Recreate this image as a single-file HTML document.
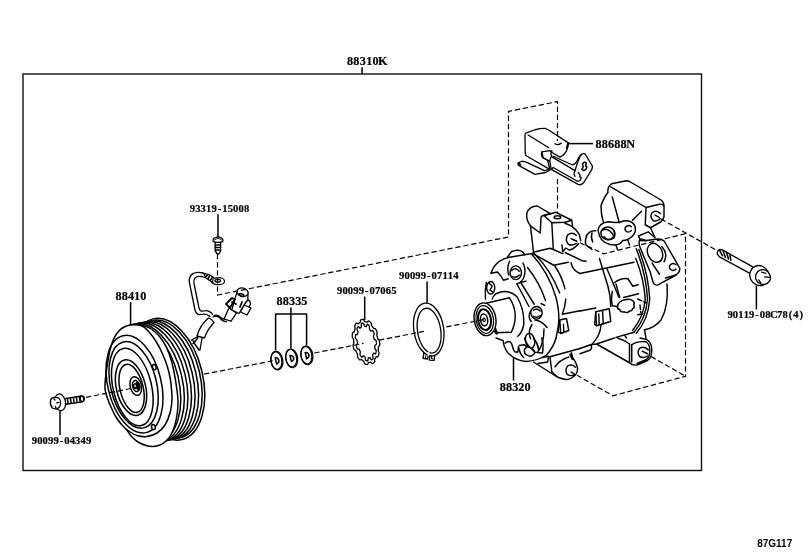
<!DOCTYPE html>
<html>
<head>
<meta charset="utf-8">
<title>88310K</title>
<style>
html,body{margin:0;padding:0;background:#fff;}
body{width:811px;height:560px;overflow:hidden;}
svg{display:block;}
.l{font-family:"Liberation Serif",serif;font-weight:bold;fill:#000;stroke:#000;stroke-width:0.2;}
.lm{font-family:"Liberation Mono",monospace;}
.s{font-family:"Liberation Sans",sans-serif;font-weight:bold;fill:#000;}
.k{fill:none;stroke:#000;stroke-width:1.5;stroke-linecap:round;stroke-linejoin:round;}
.d{fill:none;stroke:#000;stroke-width:1.2;stroke-dasharray:5.3 2.8;}
.w{fill:#fff;stroke:#000;stroke-width:1.5;stroke-linecap:round;stroke-linejoin:round;}
</style>
</head>
<body>
<svg width="811" height="560" viewBox="0 0 811 560" style="will-change:transform">
<rect x="0" y="0" width="811" height="560" fill="#fff"/>
<!-- frame -->
<g id="frame">
<rect x="23" y="74" width="678.5" height="396.5" fill="none" stroke="#111" stroke-width="1.4"/>
</g>
<!-- leaders -->
<g id="leaders" class="k" style="stroke-linecap:butt">
<path d="M362.1,67.3 V74"/>
<path d="M218,214.2 V237"/>
<path d="M130.6,302 V325"/>
<path d="M290.9,307.5 V348.5 M275.6,350.6 V314 H306.6 V345.6"/>
<path d="M364.7,296.5 V320"/>
<path d="M427.1,281.5 V304"/>
<path d="M60,410.7 V435"/>
<path d="M756.4,285.8 V309.4"/>
<path d="M513.5,358 V380.6"/>
<path d="M568.8,143.6 H593"/>
</g>
<!-- parts -->
<g id="parts">
<g id="pulley">
<ellipse class="w" cx="167.50" cy="379.20" rx="35.30" ry="62.05" transform="rotate(-13.5 167.50 379.20)" />
<ellipse class="w" cx="166.00" cy="379.26" rx="34.20" ry="60.30" transform="rotate(-13.5 166.00 379.26)" />
<ellipse class="w" cx="162.43" cy="379.97" rx="34.20" ry="60.30" transform="rotate(-13.5 162.43 379.97)" />
<ellipse class="w" cx="158.87" cy="380.69" rx="34.20" ry="60.30" transform="rotate(-13.5 158.87 380.69)" />
<ellipse class="w" cx="155.30" cy="381.40" rx="34.20" ry="60.30" transform="rotate(-13.5 155.30 381.40)" />
<ellipse class="w" cx="151.73" cy="382.11" rx="34.20" ry="60.30" transform="rotate(-13.5 151.73 382.11)" />
<ellipse class="w" cx="148.17" cy="382.83" rx="34.20" ry="60.30" transform="rotate(-13.5 148.17 382.83)" />
<ellipse class="w" cx="144.60" cy="383.54" rx="34.20" ry="60.30" transform="rotate(-13.5 144.60 383.54)" />
<path class="w" d="M143.00,325.50 C146.33,326.00 149.17,327.58 152.00,329.50 C154.83,331.42 157.58,334.00 160.00,337.00 C162.42,340.00 164.58,343.50 166.50,347.50 C168.42,351.50 170.15,356.42 171.50,361.00 C172.85,365.58 173.72,370.33 174.60,375.00 C175.48,379.67 176.23,384.67 176.80,389.00 C177.37,393.33 177.92,397.00 178.00,401.00 C178.08,405.00 177.87,408.83 177.30,413.00 C176.73,417.17 175.73,422.25 174.60,426.00 C173.47,429.75 171.93,433.00 170.50,435.50 C169.07,438.00 167.75,439.42 166.00,441.00 C164.25,442.58 162.17,444.08 160.00,445.00 C157.83,445.92 155.33,446.42 153.00,446.50 C150.67,446.58 148.50,446.25 146.00,445.50 C143.50,444.75 140.50,443.58 138.00,442.00 C135.50,440.42 132.83,438.00 131.00,436.00 C129.17,434.00 128.83,432.67 127.00,430.00 C125.17,427.33 122.50,425.00 120.00,420.00 C117.50,415.00 113.67,406.67 112.00,400.00 C110.33,393.33 109.83,388.33 110.00,380.00 C110.17,371.67 111.00,358.00 113.00,350.00 C115.00,342.00 118.83,335.92 122.00,332.00 C125.17,328.08 128.50,327.58 132.00,326.50 C135.50,325.42 139.67,325.00 143.00,325.50 Z"/>
<path class="w" d="M130.50,325.00 C127.21,325.33 124.50,326.62 122.25,328.00 C120.00,329.38 118.50,331.25 117.00,333.25 C115.50,335.25 114.38,337.38 113.25,340.00 C112.12,342.62 111.06,346.00 110.25,349.00 C109.44,352.00 109.12,353.75 108.40,358.00 C107.68,362.25 106.47,369.40 105.90,374.50 C105.33,379.60 104.72,384.60 105.00,388.60 C105.28,392.60 106.60,395.43 107.60,398.50 C108.60,401.57 109.60,403.92 111.00,407.00 C112.40,410.08 114.17,414.00 116.00,417.00 C117.83,420.00 120.00,422.75 122.00,425.00 C124.00,427.25 125.50,428.75 128.00,430.50 C130.50,432.25 133.83,434.50 137.00,435.50 C140.17,436.50 143.67,436.92 147.00,436.50 C150.33,436.08 154.00,434.92 157.00,433.00 C160.00,431.08 162.78,428.50 165.00,425.00 C167.22,421.50 169.13,416.33 170.30,412.00 C171.47,407.67 171.82,402.90 172.00,399.00 C172.18,395.10 171.65,391.77 171.40,388.60 C171.15,385.43 171.15,383.60 170.50,380.00 C169.85,376.40 168.75,371.17 167.50,367.00 C166.25,362.83 164.75,359.00 163.00,355.00 C161.25,351.00 159.25,346.75 157.00,343.00 C154.75,339.25 152.00,335.33 149.50,332.50 C147.00,329.67 145.17,327.25 142.00,326.00 C138.83,324.75 133.79,324.67 130.50,325.00 Z"/>
<ellipse class="k" cx="134.50" cy="384.20" rx="26.70" ry="49.80" transform="rotate(-13.5 134.50 384.20)" />
<ellipse class="k" cx="133.60" cy="384.90" rx="23.00" ry="44.20" transform="rotate(-13.5 133.60 384.90)" />
<ellipse class="k" cx="132.30" cy="387.00" rx="19.20" ry="39.60" transform="rotate(-13.5 132.30 387.00)" />
<ellipse class="k" cx="131.00" cy="387.60" rx="14.60" ry="28.40" transform="rotate(-13.5 131.00 387.60)" />
<ellipse class="k" cx="131.60" cy="388.40" rx="11.60" ry="24.60" transform="rotate(-13.5 131.60 388.40)" />
<ellipse class="k" cx="135.80" cy="386.00" rx="5.60" ry="9.50" transform="rotate(-13.5 135.80 386.00)" />
<ellipse class="k" cx="136.00" cy="386.00" rx="3.40" ry="5.60" transform="rotate(-13.5 136.00 386.00)" />
<ellipse cx="138.0" cy="386.0" rx="2.2" ry="4.6" fill="#000" transform="rotate(-13.5 138 386)"/>
<ellipse class="w" cx="135.20" cy="386.20" rx="1.50" ry="2.40" transform="rotate(-13.5 135.20 386.20)" />
<ellipse class="w" cx="154.30" cy="367.10" rx="1.80" ry="2.60" transform="rotate(-13.5 154.30 367.10)" />
<ellipse class="w" cx="153.40" cy="427.10" rx="1.80" ry="2.60" transform="rotate(-13.5 153.40 427.10)" />
</g>
<g id="wire">
<g transform="translate(180,260) scale(0.1)" fill="none" stroke="#000" stroke-width="13" stroke-linecap="round" stroke-linejoin="round">
<path d="M225,128 Q150,112 112,150 Q85,185 95,230 L150,500 Q165,555 210,545 Q260,530 300,565"/>
<path d="M218,165 Q170,158 150,180 Q133,200 140,235 L190,480 Q200,520 235,510 Q290,495 325,545"/>
<path d="M330,570 Q370,550 400,580 Q430,620 465,615"/>
<path d="M340,555 Q375,545 410,575 Q430,595 448,590"/>
<path d="M285,580 Q200,650 170,760 L245,780 Q270,700 340,625 Q320,590 285,580 Z" fill="#fff"/>
<path d="M170,770 L115,800 L150,820 M220,782 L200,900 M180,775 L140,830 L190,900 M160,800 L130,835"/>
<path d="M225,128 L300,150 L345,182 M218,165 L260,180 L310,215 Q330,240 380,247"/>
<path d="M240,138 L255,172 L275,150 M295,160 L280,188 M325,172 L305,200" stroke-width="16"/>
<ellipse cx="385" cy="212" rx="60" ry="35" fill="#fff"/>
<ellipse cx="378" cy="208" rx="28" ry="14"/>
<path d="M490,480 L440,590 L510,612 L565,530 Z" fill="#fff"/>
<path d="M640,450 L710,480 L670,550 L605,520 Z" fill="#fff"/>
<path d="M660,400 Q700,390 705,440 L690,470"/>
<path d="M545,400 L518,500 L590,535 L640,450 L678,400 L680,330 L570,325 Z" fill="#fff"/>
<ellipse cx="625" cy="322" rx="57" ry="42" fill="#fff" transform="rotate(15 625 322)"/>
<ellipse cx="615" cy="350" rx="25" ry="11" transform="rotate(20 615 350)" stroke-width="16"/>
<path d="M460,440 L500,478 L548,395 L520,380 Z" fill="#fff" stroke-width="18"/>
<path d="M520,420 L560,440 M600,470 L620,420" stroke-width="18"/>
</g>
</g>
<g id="screw">
<g fill="#fff" stroke="#000" stroke-width="1.3" stroke-linecap="round" stroke-linejoin="round">
<path d="M215.2,242 L215.2,251 L217.4,254 L218.8,254 L220.6,251 L220.6,242 Z"/>
<path d="M215.2,245 H220.6 M215.2,247.5 H220.6 M215.4,250 H220.4" stroke-width="1.5"/>
<path d="M213.2,241.6 Q212.3,238.2 216,237.4 L218,236.9 L220,237.4 Q223.6,238.2 222.8,241.6 Q218,243 213.2,241.6 Z"/>
<path d="M214.5,240 L216.3,239 L218,238.2 L219.7,239 L221.5,240" fill="none" stroke-width="0.9"/>
</g>
</g>
<g id="bolt1">
<g transform="translate(40,384) scale(0.075)" fill="#fff" stroke="#000" stroke-width="17" stroke-linecap="round" stroke-linejoin="round">
<path d="M330,195 L560,160 Q595,165 592,200 Q590,232 565,238 L340,270 Z"/>
<path d="M365,192 L375,262 M405,186 L415,256 M445,180 L455,250 M485,174 L495,245 M525,168 L535,240" stroke-width="20"/>
<ellipse cx="560" cy="199" rx="22" ry="37" transform="rotate(-8 560 199)"/>
<ellipse cx="268" cy="245" rx="72" ry="113" transform="rotate(-10 268 245)"/>
<path d="M200,180 Q150,175 140,220 Q130,275 165,320 L215,335 Q265,320 275,265 Q280,215 250,185 Z"/>
<path d="M185,200 L200,215 M225,250 L255,245 M205,300 L215,320" fill="none"/>
</g>
</g>
<g id="washers">
<g transform="rotate(-9 276.9 360.7)" fill="#fff" stroke="#000" stroke-width="1.3">
<ellipse cx="276.9" cy="360.7" rx="5.9" ry="9.3"/>
<ellipse cx="276.4" cy="360.4" rx="5.4" ry="8.9" fill="none" stroke-width="1.2"/>
<path d="M275.7,357.7 L276.1,363.9 Q279.1,363.2 278.9,360.2 Q278.5,357.5 275.7,357.7 Z" stroke-width="1.5"/>
</g>
<g transform="rotate(-9 291.7 358.3)" fill="#fff" stroke="#000" stroke-width="1.3">
<ellipse cx="291.7" cy="358.3" rx="5.9" ry="9.3"/>
<ellipse cx="291.2" cy="358.0" rx="5.4" ry="8.9" fill="none" stroke-width="1.2"/>
<path d="M290.5,355.3 L290.9,361.5 Q293.9,360.8 293.7,357.8 Q293.3,355.1 290.5,355.3 Z" stroke-width="1.5"/>
</g>
<g transform="rotate(-9 306.9 355.4)" fill="#fff" stroke="#000" stroke-width="1.3">
<ellipse cx="306.9" cy="355.4" rx="5.9" ry="9.3"/>
<ellipse cx="306.4" cy="355.1" rx="5.4" ry="8.9" fill="none" stroke-width="1.2"/>
<path d="M305.7,352.4 L306.1,358.6 Q309.1,357.9 308.9,354.9 Q308.5,352.2 305.7,352.4 Z" stroke-width="1.5"/>
</g>
</g>
<g id="toothed">
<g transform="rotate(-10 366.0 342.0)" fill="#fff" stroke="#000" stroke-width="1.3" stroke-linejoin="round">
<path d="M378.80,342.00 L379.20,342.59 L379.42,343.20 L379.40,343.80 L379.37,344.39 L379.33,344.99 L379.27,345.58 L379.21,346.17 L379.15,346.76 L379.07,347.34 L378.72,347.80 L378.24,348.17 L377.76,348.51 L377.46,348.91 L377.35,349.42 L377.23,349.93 L377.11,350.42 L376.98,350.92 L376.83,351.40 L376.69,351.88 L376.53,352.36 L376.63,353.10 L376.80,353.94 L376.94,354.80 L376.87,355.45 L376.66,355.93 L376.44,356.41 L376.22,356.87 L375.99,357.32 L375.75,357.76 L375.50,358.19 L375.25,358.60 L374.76,358.57 L374.24,358.43 L373.74,358.27 L373.40,358.43 L373.15,358.75 L372.89,359.07 L372.62,359.37 L372.35,359.66 L372.08,359.94 L371.80,360.20 L371.52,360.45 L371.40,361.28 L371.27,362.14 L371.10,362.99 L370.82,363.37 L370.49,363.58 L370.15,363.77 L369.82,363.95 L369.48,364.11 L369.14,364.26 L368.79,364.39 L368.44,364.45 L368.04,363.90 L367.65,363.30 L367.28,362.71 L366.95,362.65 L366.64,362.68 L366.32,362.70 L366.00,362.71 L365.68,362.70 L365.36,362.68 L365.05,362.65 L364.72,362.71 L364.35,363.30 L363.96,363.90 L363.56,364.45 L363.21,364.39 L362.86,364.26 L362.52,364.11 L362.18,363.95 L361.85,363.77 L361.51,363.58 L361.18,363.37 L360.90,362.99 L360.73,362.14 L360.60,361.28 L360.48,360.45 L360.20,360.20 L359.92,359.94 L359.65,359.66 L359.38,359.37 L359.11,359.07 L358.85,358.75 L358.60,358.43 L358.26,358.27 L357.76,358.43 L357.24,358.57 L356.75,358.60 L356.50,358.19 L356.25,357.76 L356.01,357.32 L355.78,356.87 L355.56,356.41 L355.34,355.93 L355.13,355.45 L355.06,354.80 L355.20,353.94 L355.37,353.10 L355.47,352.36 L355.31,351.88 L355.17,351.40 L355.02,350.92 L354.89,350.42 L354.77,349.93 L354.65,349.42 L354.54,348.91 L354.24,348.51 L353.76,348.17 L353.28,347.80 L352.93,347.34 L352.85,346.76 L352.79,346.17 L352.73,345.58 L352.67,344.99 L352.63,344.39 L352.60,343.80 L352.58,343.20 L352.80,342.59 L353.20,342.00 L353.60,341.45 L353.86,340.92 L353.88,340.38 L353.91,339.84 L353.94,339.30 L353.99,338.76 L354.04,338.23 L354.11,337.69 L354.18,337.17 L353.99,336.52 L353.69,335.79 L353.41,335.03 L353.33,334.36 L353.45,333.80 L353.58,333.24 L353.72,332.69 L353.87,332.15 L354.02,331.61 L354.19,331.08 L354.36,330.56 L354.81,330.32 L355.33,330.20 L355.84,330.11 L356.16,329.83 L356.35,329.39 L356.55,328.97 L356.75,328.55 L356.96,328.14 L357.18,327.74 L357.40,327.36 L357.63,326.98 L357.63,326.17 L357.62,325.28 L357.63,324.39 L357.82,323.84 L358.10,323.48 L358.39,323.14 L358.68,322.80 L358.98,322.48 L359.28,322.18 L359.59,321.88 L359.90,321.61 L360.38,321.93 L360.85,322.31 L361.31,322.71 L361.64,322.67 L361.94,322.48 L362.24,322.30 L362.55,322.14 L362.85,322.00 L363.16,321.86 L363.47,321.74 L363.78,321.58 L364.03,320.84 L364.31,320.08 L364.60,319.35 L364.95,319.18 L365.30,319.14 L365.65,319.12 L366.00,319.11 L366.35,319.12 L366.70,319.14 L367.05,319.18 L367.40,319.35 L367.69,320.08 L367.97,320.84 L368.22,321.58 L368.53,321.74 L368.84,321.86 L369.15,322.00 L369.45,322.14 L369.76,322.30 L370.06,322.48 L370.36,322.67 L370.69,322.71 L371.15,322.31 L371.62,321.93 L372.10,321.61 L372.41,321.88 L372.72,322.18 L373.02,322.48 L373.32,322.80 L373.61,323.14 L373.90,323.48 L374.18,323.84 L374.37,324.39 L374.38,325.28 L374.37,326.17 L374.37,326.98 L374.60,327.36 L374.82,327.74 L375.04,328.14 L375.25,328.55 L375.45,328.97 L375.65,329.39 L375.84,329.83 L376.16,330.11 L376.67,330.20 L377.19,330.32 L377.64,330.56 L377.81,331.08 L377.98,331.61 L378.13,332.15 L378.28,332.69 L378.42,333.24 L378.55,333.80 L378.67,334.36 L378.59,335.03 L378.31,335.79 L378.01,336.52 L377.82,337.17 L377.89,337.69 L377.96,338.23 L378.01,338.76 L378.06,339.30 L378.09,339.84 L378.12,340.38 L378.14,340.92 L378.40,341.45 Z"/>
<path d="M376.12,342.00 L376.24,342.50 L376.23,343.00 L376.21,343.51 L376.19,344.01 L376.16,344.50 L376.12,345.00 L376.07,345.50 L375.97,345.97 L375.41,346.23 L374.83,346.43 L374.28,346.59 L374.14,346.95 L374.06,347.35 L373.99,347.74 L373.90,348.13 L373.81,348.51 L373.72,348.90 L373.62,349.27 L373.61,349.73 L373.94,350.59 L374.27,351.49 L374.57,352.42 L374.44,352.87 L374.29,353.28 L374.13,353.68 L373.96,354.07 L373.79,354.46 L373.61,354.84 L373.43,355.21 L373.14,355.37 L372.60,355.01 L372.05,354.59 L371.56,354.18 L371.38,354.45 L371.21,354.71 L371.03,354.96 L370.85,355.20 L370.66,355.43 L370.47,355.66 L370.28,355.87 L370.17,356.39 L370.21,357.46 L370.22,358.56 L370.17,359.53 L369.92,359.72 L369.67,359.91 L369.42,360.08 L369.17,360.25 L368.91,360.39 L368.65,360.53 L368.39,360.65 L368.08,360.33 L367.73,359.46 L367.40,358.56 L367.12,357.88 L366.89,357.93 L366.67,357.97 L366.45,357.99 L366.22,358.01 L366.00,358.02 L365.78,358.01 L365.55,357.99 L365.31,358.50 L365.02,359.44 L364.71,360.37 L364.40,360.95 L364.13,360.86 L363.87,360.76 L363.61,360.65 L363.35,360.53 L363.09,360.39 L362.83,360.25 L362.58,360.08 L362.45,359.33 L362.41,358.24 L362.40,357.15 L362.32,356.46 L362.12,356.27 L361.92,356.08 L361.72,355.87 L361.53,355.66 L361.34,355.43 L361.15,355.20 L360.97,354.96 L360.56,355.27 L360.05,355.77 L359.51,356.22 L359.14,356.26 L358.95,355.92 L358.75,355.57 L358.57,355.21 L358.39,354.84 L358.21,354.46 L358.04,354.07 L357.87,353.68 L358.05,352.81 L358.34,351.85 L358.65,350.94 L358.71,350.37 L358.59,350.01 L358.48,349.64 L358.38,349.27 L358.28,348.90 L358.19,348.51 L358.10,348.13 L358.01,347.74 L357.49,347.64 L356.91,347.53 L356.34,347.36 L356.10,346.97 L356.04,346.48 L355.98,345.99 L355.93,345.50 L355.88,345.00 L355.84,344.50 L355.81,344.01 L355.80,343.50 L356.29,342.95 L356.81,342.45 L357.32,342.00 L357.45,341.58 L357.46,341.16 L357.47,340.74 L357.49,340.33 L357.52,339.91 L357.55,339.49 L357.59,339.08 L357.58,338.65 L357.13,338.01 L356.67,337.32 L356.25,336.59 L356.26,336.07 L356.34,335.60 L356.43,335.13 L356.53,334.66 L356.64,334.20 L356.75,333.74 L356.87,333.29 L357.08,332.94 L357.66,332.99 L358.24,333.10 L358.80,333.24 L358.95,332.93 L359.08,332.59 L359.21,332.25 L359.35,331.92 L359.50,331.60 L359.64,331.28 L359.80,330.98 L359.85,330.48 L359.65,329.48 L359.47,328.43 L359.35,327.41 L359.55,327.09 L359.76,326.78 L359.98,326.48 L360.20,326.19 L360.42,325.91 L360.65,325.64 L360.88,325.39 L361.20,325.46 L361.67,326.10 L362.13,326.79 L362.52,327.37 L362.73,327.20 L362.93,327.05 L363.14,326.90 L363.36,326.77 L363.57,326.64 L363.79,326.53 L364.00,326.43 L364.17,325.90 L364.30,324.85 L364.46,323.79 L364.66,322.98 L364.93,322.92 L365.20,322.88 L365.46,322.84 L365.73,322.82 L366.00,322.82 L366.27,322.82 L366.54,322.84 L366.78,323.40 L366.99,324.43 L367.16,325.47 L367.34,326.18 L367.56,326.25 L367.78,326.33 L368.00,326.43 L368.21,326.53 L368.43,326.64 L368.64,326.77 L368.86,326.90 L369.18,326.47 L369.60,325.72 L370.04,325.00 L370.41,324.68 L370.65,324.91 L370.89,325.14 L371.12,325.39 L371.35,325.64 L371.58,325.91 L371.80,326.19 L372.02,326.48 L372.01,327.34 L371.88,328.41 L371.72,329.45 L371.72,330.10 L371.89,330.38 L372.05,330.67 L372.20,330.98 L372.36,331.28 L372.50,331.60 L372.65,331.92 L372.79,332.25 L373.26,332.12 L373.84,331.91 L374.42,331.77 L374.74,331.98 L374.87,332.41 L375.00,332.85 L375.13,333.29 L375.25,333.74 L375.36,334.20 L375.47,334.66 L375.57,335.13 L375.21,335.89 L374.79,336.65 L374.36,337.36 L374.26,337.85 L374.32,338.26 L374.37,338.67 L374.41,339.08 L374.45,339.49 L374.48,339.91 L374.51,340.33 L374.54,340.74 L375.06,341.11 L375.60,341.53 Z"/>
</g>
</g>
<g id="snapring">
<g transform="rotate(-9 428.75 329.50)" fill="#fff" stroke="#000" stroke-width="1.3" stroke-linejoin="round">
<path d="M420.15,352.00 l-1.5,5.0 l4.3,1.6 l1.4,-4.4 l1.6,0.4 l-1.4,5.2 l4.6,1.1 l1.6,-5.4 Z"/>
<ellipse cx="428.75" cy="329.50" rx="14.9" ry="26.6"/>
<ellipse cx="428.95" cy="330.70" rx="11.6" ry="22.6"/>
<path d="M421.75,354.50 l-0.6,3 l1.6,0.5 M427.55,355.70 l-0.6,3 l1.6,0.4" fill="none" stroke-width="1"/>
<rect x="424.55" y="351.00" width="1.6" height="4.5" fill="#fff" stroke="none" transform="rotate(15 424.55 351.00)"/>
</g>
</g>
<g id="compressor">
<g transform="translate(460,170) scale(0.15)" fill="none" stroke="#000" stroke-width="9.6" stroke-linecap="round" stroke-linejoin="round">
<g transform="translate(0,1120)">
<path d="M240,0 L288,18 Q290,60 320,100 Q370,150 440,157 Q520,150 575,115 Q625,60 640,0"/>
<path d="M300,35 Q330,10 345,40 Q355,80 365,92 L385,95 L390,60"/>
<path d="M390,60 Q400,110 425,130"/>
<path d="M395,50 L430,45 L445,60"/>
<path d="M430,75 Q425,110 450,115 Q470,130 490,110 Q505,100 490,80 Q470,55 445,60 Z"/>
<path d="M430,0 Q440,40 470,65 L500,95 L545,100"/>
<path d="M490,0 Q520,40 525,80"/>
<path d="M545,0 Q560,50 550,100"/>
<!-- foot -->
<path d="M490,160 L640,255 Q690,280 722,276 Q762,262 777,235 Q793,200 770,162 Q746,130 742,98"/>
<path d="M520,170 L585,160 L590,122 L550,130"/>
<path d="M600,125 L612,225 L640,252"/>
<path d="M600,125 L800,70"/>
<path d="M633,193 Q660,150 725,127"/>
<path d="M770,195 Q748,170 718,186 Q696,214 715,242 Q738,258 765,245"/>
<path d="M740,228 L760,238"/>
<path d="M735,110 L750,140" stroke-width="14"/>
<ellipse cx="467" cy="18" rx="30" ry="50" transform="rotate(-12 467 18)"/>
<path d="M560,-60 Q560,40 520,90"/>
</g>
<g transform="translate(800,1120)">
<path d="M0,70 L70,45 Q85,60 70,80 L0,105"/>
<path d="M70,45 L110,40 L230,0"/>
<path d="M110,40 L330,165"/>
<path d="M330,40 L330,165 Q350,185 380,180 L450,150 Q482,130 478,70 Q475,25 440,8 L400,0"/>
<path d="M345,45 L345,160 M330,40 L300,20 L250,0"/>
<path d="M345,45 Q380,20 440,25 Q465,40 465,80 Q468,125 440,145 L380,170"/>
<path d="M455,80 Q430,50 398,68 Q375,95 400,125 Q425,138 450,120"/>
<path d="M415,88 L450,105"/>
</g>
<g transform="translate(0,560)">
<!-- housing front -->
<path d="M207,128 Q220,82 260,50 Q290,30 330,22 L400,10 L480,-3"/>
<path d="M317,20 L342,-15 Q387,-35 417,-15 L432,5"/>
<path d="M497,0 Q600,100 665,260"/>
<path d="M207,128 L250,120 L275,150 L290,175 L322,165"/>
<path d="M175,190 Q165,240 170,300"/>
<ellipse cx="205" cy="225" rx="27" ry="42"/>
<path d="M195,195 L215,215 L200,240 L220,255"/>
<path d="M330,50 Q310,90 325,140"/>
<ellipse cx="372" cy="125" rx="38" ry="46"/>
<path d="M345,110 Q370,85 395,115 M350,150 Q375,165 395,140"/>
<path d="M420,60 Q440,100 430,140 Q425,170 405,185"/>
<path d="M380,200 L405,188 L440,182"/>
<path d="M380,200 L460,350"/>
<path d="M405,190 L495,335"/>
<path d="M450,90 Q530,190 570,310"/>
<path d="M477,0 Q590,120 640,290 Q668,400 655,480 L640,562"/>
<path d="M540,330 L565,342"/>
<ellipse cx="510" cy="392" rx="38" ry="42"/>
<path d="M490,375 Q510,355 535,380 M490,415 Q510,430 535,410"/>
<path d="M500,440 Q545,445 580,490"/>
<path d="M470,380 Q450,420 475,450"/>
<path d="M480,470 Q450,515 470,565"/>
<!-- ring around nose -->
<path d="M215,300 Q220,280 240,265 Q320,228 380,285 Q430,370 425,470 Q415,525 385,548"/>
<!-- nose -->
<path d="M180,327 L330,292 Q400,400 342,522 L235,525 Z" fill="#fff"/>
<g transform="rotate(-9 167 435)">
<ellipse cx="167" cy="435" rx="72" ry="110" fill="#fff"/>
<ellipse cx="165" cy="436" rx="58" ry="93" stroke-width="8"/>
<ellipse cx="163" cy="437" rx="43" ry="70" stroke-width="14"/>
<ellipse cx="160" cy="438" rx="24" ry="40" stroke-width="10"/>
<ellipse cx="160" cy="438" rx="8" ry="12" stroke-width="8"/>
</g>
<path d="M235,500 L245,530" stroke-width="16"/>
<!-- body -->
<path d="M482,-5 L625,75 L722,55"/>
<path d="M632,80 Q680,150 700,232"/>
<path d="M740,58 Q750,110 800,130"/>
<path d="M705,300 Q700,360 682,402 L800,378"/>
<path d="M665,440 L710,430 L725,510 L672,530 Z"/>
<path d="M665,440 L655,520 L672,530 M690,470 L692,520"/>
</g>
<g transform="translate(800,560)">
<path d="M0,130 L360,55"/>
<path d="M0,380 L105,360"/>
<path d="M130,30 Q150,100 185,210 Q205,280 205,350"/>
<path d="M180,100 Q220,190 260,290"/>
<path d="M230,190 Q280,155 320,165 L352,215 L388,205"/>
<path d="M240,200 L265,290"/>
<path d="M290,290 L390,265"/>
<path d="M250,350 Q255,312 300,305 Q335,295 352,312 Q368,325 358,340 Q370,355 350,365 Q350,380 330,380 Q315,398 295,385 Q270,392 265,370 Q248,368 250,350 Z"/>
<path d="M215,250 Q205,300 215,345 L250,350"/>
<path d="M105,385 L195,365 L205,450 L110,478 Z"/>
<path d="M105,385 L98,470 L110,478 M150,375 L155,465 M125,400 L128,470"/>
<path d="M375,-35 Q440,130 450,300 Q440,430 360,522"/>
<path d="M392,-30 Q455,130 465,300 Q455,440 375,528"/>
<path d="M372,30 Q425,160 435,300 Q425,420 350,510"/>
<path d="M580,200 Q592,350 540,440 Q500,492 430,505"/>
<path d="M360,522 L240,556"/>
<path d="M140,475 Q135,545 80,602"/>
<path d="M430,505 L440,560 M300,545 L310,560"/>
<path d="M385,300 L440,325 M400,340 L405,390 M385,405 L430,398" stroke-dasharray="30 14"/>
<!-- right flange -->
<path d="M400,-100 Q388,-80 400,-45 L468,120 L488,192 Q498,212 520,206 L640,140 Q668,120 665,95 L562,-85 Q548,-100 520,-100 L440,-90 Q415,-102 400,-100 Z"/>
<ellipse cx="500" cy="-8" rx="48" ry="66" transform="rotate(-25 500 -8)"/>
<path d="M545,-50 Q590,0 560,52"/>
<path d="M570,160 L640,140"/>
<path d="M480,60 L530,135"/>
<path d="M640,72 Q618,52 598,76 Q590,102 618,110 Q632,110 640,100"/>
</g>
<g transform="translate(0,0)">
<path d="M470,372 Q440,335 445,290 Q458,242 515,240 L605,292 L560,302 Q542,305 540,320 L535,420 Z" fill="#fff"/>
<path d="M470,372 L490,548 L600,522 L622,530"/>
<path d="M560,303 L640,282 L745,335 L750,372"/>
<path d="M560,303 L612,352 L700,348 L745,335"/>
<path d="M612,352 L622,530 L685,558"/>
<ellipse cx="650" cy="315" rx="22" ry="10"/>
<path d="M700,355 Q765,375 795,430 L805,470"/>
<path d="M775,435 Q750,410 718,432 Q698,465 722,495 Q748,508 775,490"/>
<path d="M740,458 L775,472"/>
<path d="M680,500 L685,545 L705,520 L730,535 Q770,520 790,490"/>
<path d="M700,550 L815,605 L840,608"/>
</g>
<g transform="translate(800,0)">
<path d="M185,150 Q185,105 210,92 L310,72 Q325,72 345,85 L540,200 Q560,215 560,240 L560,310 Q555,335 540,345 L470,385 L435,365 L440,250 L205,112"/>
<path d="M440,250 L530,228 Q550,225 558,240"/>
<path d="M535,290 Q510,262 480,285 Q462,315 490,338 Q515,345 535,325"/>
<path d="M500,300 L530,318"/>
<path d="M185,150 Q150,200 140,240 Q140,300 155,345"/>
<path d="M215,180 L262,352"/>
<path d="M350,335 L410,275"/>
<path d="M120,400 Q128,352 190,345 Q250,358 290,340 Q340,332 365,370 Q380,410 350,440 Q320,470 285,470 Q265,510 200,497 Q130,482 120,400 Z"/>
<ellipse cx="185" cy="422" rx="46" ry="42"/>
<path d="M160,445 Q185,480 225,455 Q240,430 225,405"/>
<path d="M150,400 Q190,380 225,440"/>
<path d="M342,378 Q322,360 302,382 Q294,406 320,414 Q334,414 342,404"/>
<path d="M40,445 Q60,400 105,405"/>
<path d="M45,445 Q30,470 40,500 L80,530"/>
<path d="M80,420 Q70,450 85,480"/>
<path d="M240,500 L250,530 M320,470 L330,500"/>
<path d="M390,440 L455,412 L500,452"/>
<path d="M390,440 L402,470 L440,472"/>
<path d="M470,385 L500,450"/>
</g>
</g>
</g>
<g id="bracket">
<g transform="translate(510,120) scale(0.125)" fill="none" stroke="#000" stroke-width="10.5" stroke-linecap="round" stroke-linejoin="round">
<path d="M125,105 L200,78 Q250,66 285,68 L312,82 L470,185 L455,240 Q440,275 400,297 L340,262 L318,245 L255,255 L265,300 L300,320 L318,390 L300,385 L140,292 Q122,285 122,268 L120,140 Q118,115 125,105 Z" fill="#fff"/>
<path d="M145,120 L310,222"/>
<path d="M360,190 Q385,205 410,185" />
<path d="M255,255 Q245,285 265,305 L318,330"/>
<path d="M65,345 L95,330 L125,335 L275,405 L318,395"/>
<path d="M65,345 Q60,358 72,365 L200,435 L285,420 L320,400"/>
<path d="M70,345 L85,360" stroke-width="14"/>
<path d="M335,245 Q320,270 335,295 L520,405 Q535,350 560,290 Q580,262 600,270 L660,370 L655,395 L590,500 Q570,525 545,515 L330,395 L318,330 Q320,300 335,290"/>
<path d="M345,290 L500,360 Q530,350 545,310 L570,275"/>
<path d="M330,395 L345,380 L540,490 Q565,490 570,460"/>
<path d="M520,405 Q505,430 520,450 M545,420 Q565,435 560,460"/>
<path d="M580,350 Q600,330 610,345 L605,365 L615,375 Q610,400 590,405 L575,395 L585,375 Z" stroke-width="12"/>
<path d="M465,185 L455,225" stroke-width="16"/>
</g>
</g>
<g id="bolt2">
<g transform="translate(690,220) scale(0.19646)" fill="#fff" stroke="#000" stroke-width="6.6" stroke-linecap="round" stroke-linejoin="round">
<path d="M150,150 Q135,160 140,175 L150,188 L305,272 L322,240 L165,152 Z"/>
<path d="M150,152 L165,182 M168,156 L180,190 M186,166 L196,198 M203,176 L208,205" stroke-width="8"/>
<ellipse cx="353" cy="283" rx="48" ry="52" transform="rotate(-25 353 283)"/>
<path d="M345,262 Q365,245 390,258 Q415,280 408,305 Q395,330 370,328 Q345,325 335,300 Q330,280 345,262 Z"/>
<path d="M365,265 L385,272 M350,305 L360,320 M380,290 L405,292" fill="none"/>
</g>
</g>

</g>
<!-- dashed lines -->
<g id="dashes" class="d">
<path d="M86,397.3 L136.5,387.4"/>
<path d="M204,374.2 L274.5,360.4"/>
<path d="M314.3,353 L363.5,343.4"/>
<path d="M379,340.2 L425.5,331.1"/>
<path d="M446.3,326.9 L485.5,319.2"/>
<path d="M217.5,254 L217.5,295 L508.5,237 L508.5,111.4 L557.5,101.6 L557.5,141"/>
<path d="M557.5,179 L557.5,214"/>
<path d="M572.5,239.4 L603.75,253.75 L685.5,233.7 L685.5,376.25 L613,395.75 L577,375.3"/>
<path d="M651,356.5 L685.5,376.25"/>
<path d="M661,219 L717.5,250.8"/>
</g>
<!-- labels -->
<g id="labels">
<text class="l" text-anchor="middle" x="350.00 356.40 362.80 369.20 375.60 382.80" y="64.7" font-size="12.2">88310K</text>
<text class="l" text-anchor="middle" x="598.62 604.88 611.12 617.38 623.62 630.67" y="147.5" font-size="12.2">88688N</text>
<text class="l" text-anchor="middle" x="192.41 197.83 203.25 208.67 214.09 219.51 224.93 230.35 235.77 241.19 246.61" y="211.7" font-size="10.6">93319-15008</text>
<text class="l" text-anchor="middle" x="118.67 124.82 130.97 137.12 143.28" y="300.0" font-size="12.2">88410</text>
<text class="l" text-anchor="middle" x="279.60 285.80 292.00 298.20 304.40" y="305.2" font-size="12.2">88335</text>
<text class="l" text-anchor="middle" x="339.61 345.03 350.45 355.87 361.29 366.71 372.13 377.55 382.97 388.39 393.81" y="293.9" font-size="10.6">90099-07065</text>
<text class="l" text-anchor="middle" x="401.71 407.13 412.55 417.97 423.39 428.81 434.23 439.65 445.07 450.49 455.91" y="278.9" font-size="10.6">90099-07114</text>
<text class="l" text-anchor="middle" x="502.88 509.06 515.23 521.39 527.57" y="391.2" font-size="12.2">88320</text>
<text class="l" text-anchor="middle" x="730.10 735.50 740.90 746.30 751.70 757.10 762.50 767.90 773.80 779.70 785.10 790.50 795.90 801.30" y="317.6" font-size="10.6">90119-08C78(4)</text>
<text class="l" text-anchor="middle" x="34.41 39.83 45.25 50.67 56.09 61.51 66.93 72.35 77.77 83.19 88.61" y="444.0" font-size="10.6">90099-04349</text>
<text class="s" x="757.2" y="546.5" font-size="10">87G117</text>
</g>
</svg>
</body>
</html>
